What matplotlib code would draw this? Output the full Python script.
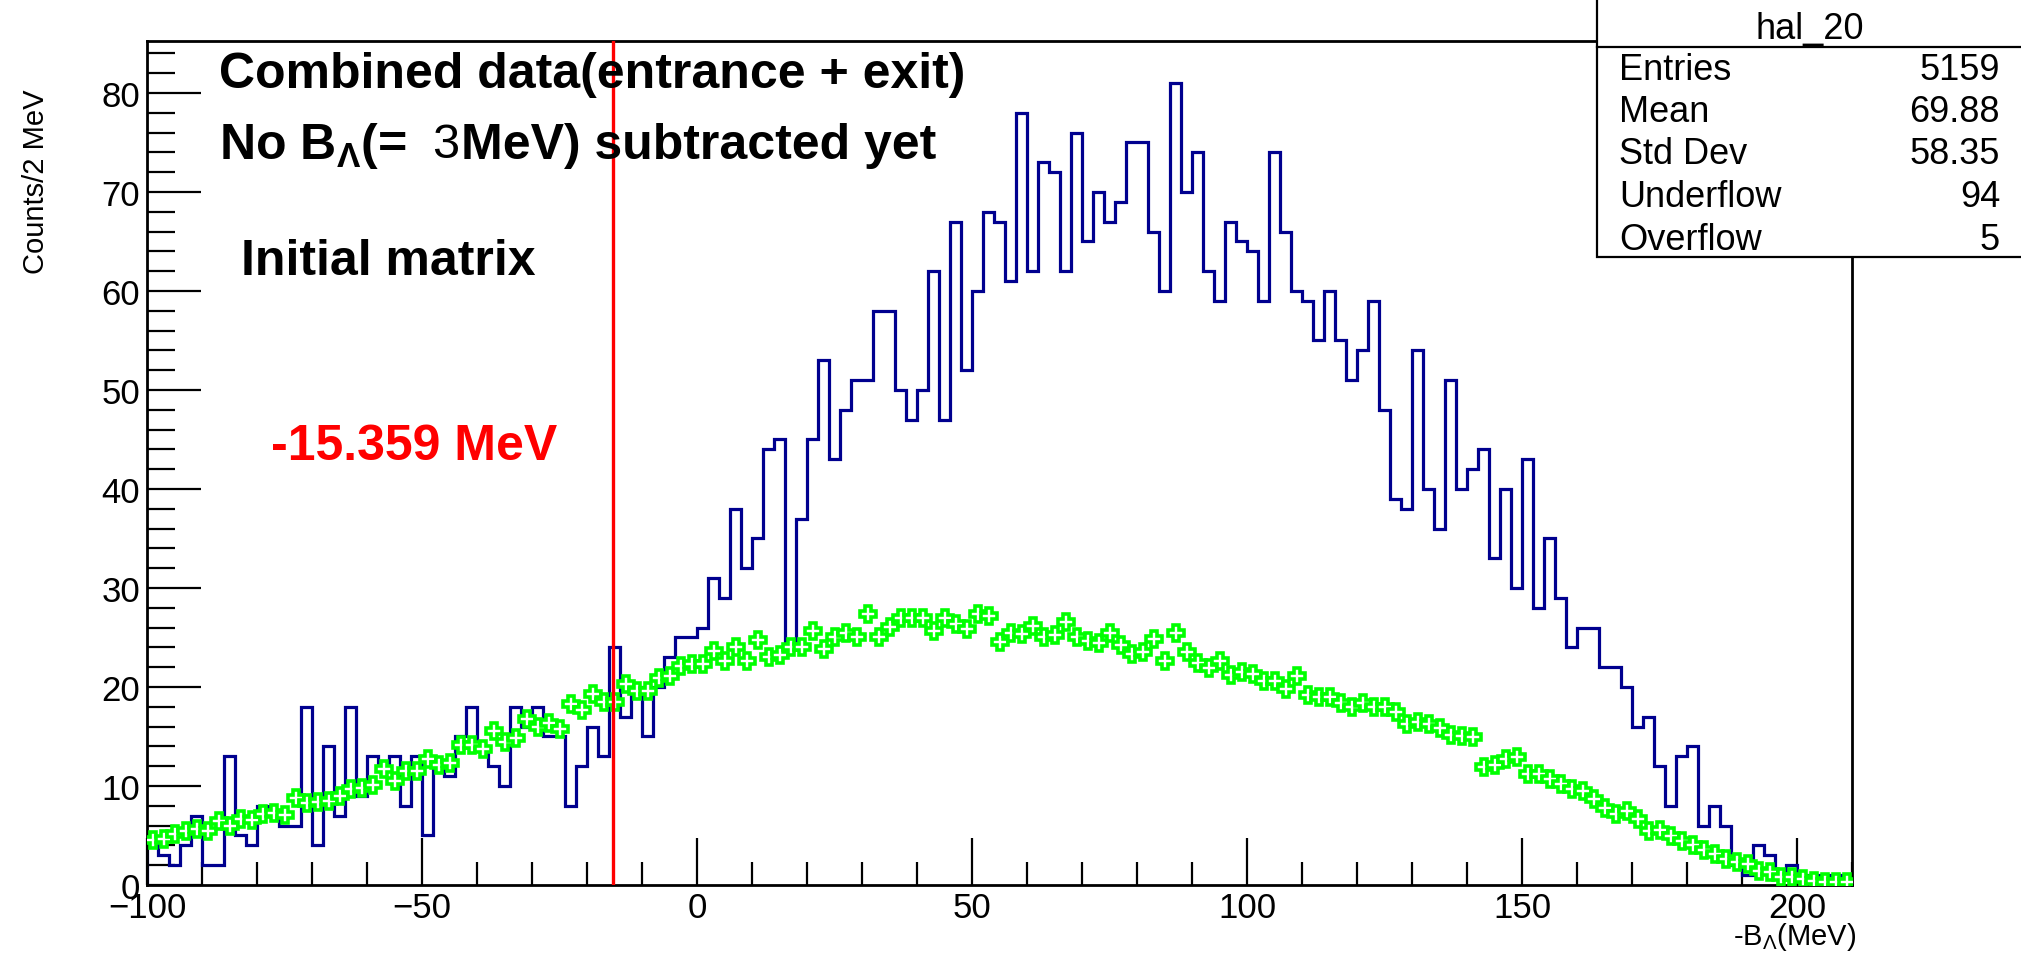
import numpy as np
import matplotlib
matplotlib.use("Agg")
import matplotlib.pyplot as plt
from matplotlib.ticker import MultipleLocator
from matplotlib.lines import Line2D
from matplotlib.patches import Rectangle

plt.rcParams['font.family'] = ['Liberation Sans', 'DejaVu Sans']
plt.rcParams['mathtext.fontset'] = 'custom'
plt.rcParams['mathtext.rm'] = 'Liberation Sans'
plt.rcParams['mathtext.it'] = 'Liberation Sans:italic'
plt.rcParams['mathtext.bf'] = 'Liberation Sans:bold'

# histogram hal_20, 2 MeV bins from -100 to 210
bin_lo = -100
bin_hi = 210
bin_w = 2
counts = [4, 3, 2, 4, 7, 2, 2, 13, 5, 4,
          8, 7, 6, 6, 18, 4, 14, 7, 18, 9,
          13, 12, 13, 8, 13, 5, 12, 11, 15, 18,
          14, 12, 10, 18, 16, 18, 15, 15, 8, 12,
          16, 13, 24, 17, 20, 15, 20, 23, 25, 25,
          26, 31, 29, 38, 32, 35, 44, 45, 24, 37,
          45, 53, 43, 48, 51, 51, 58, 58, 50, 47,
          50, 62, 47, 67, 52, 60, 68, 67, 61, 78,
          62, 73, 72, 62, 76, 65, 70, 67, 69, 75,
          75, 66, 60, 81, 70, 74, 62, 59, 67, 65,
          64, 59, 74, 66, 60, 59, 55, 60, 55, 51,
          54, 59, 48, 39, 38, 54, 40, 36, 51, 40,
          42, 44, 33, 40, 30, 43, 28, 35, 29, 24,
          26, 26, 22, 22, 20, 16, 17, 12, 8, 13,
          14, 6, 8, 6, 2, 1, 4, 3, 1, 2,
          1, 1, 1, 1, 0]
# green reference distribution (same binning)
ref = [4.5, 4.6, 5.2, 5.5, 5.7, 5.5, 6.5, 6.0, 6.7, 6.6,
       7.2, 7.3, 7.1, 8.8, 8.3, 8.4, 8.5, 9.0, 9.7, 9.8,
       10.1, 11.7, 10.5, 11.5, 11.5, 12.7, 12.1, 12.3, 14.1, 14.1,
       13.7, 15.6, 14.4, 14.8, 16.8, 16.0, 16.4, 15.8, 18.3, 17.7,
       19.3, 18.5, 18.5, 20.3, 19.6, 19.6, 20.9, 21.1, 22.1, 22.3,
       22.3, 23.6, 22.6, 24.0, 22.6, 24.7, 23.0, 23.2, 24.0, 24.0,
       25.7, 23.8, 25.1, 25.5, 25.1, 27.4, 25.1, 26.1, 27.0, 27.0,
       27.0, 25.7, 27.0, 26.4, 25.9, 27.4, 27.2, 24.5, 25.5, 25.4,
       26.2, 25.1, 25.3, 26.6, 25.1, 24.6, 24.4, 25.5, 24.2, 23.3,
       23.5, 24.8, 22.6, 25.5, 23.5, 22.4, 21.9, 22.6, 21.2, 21.5,
       21.3, 20.6, 20.6, 19.8, 21.1, 19.2, 19.0, 19.0, 18.4, 18.0,
       18.4, 18.0, 18.0, 17.5, 16.3, 16.5, 16.3, 15.9, 15.2, 15.1,
       14.9, 11.9, 12.1, 12.7, 12.9, 11.2, 11.2, 10.7, 10.2, 9.7,
       9.5, 8.7, 7.8, 7.2, 7.5, 6.7, 5.5, 5.6, 4.9, 4.4,
       4.0, 3.5, 3.1, 2.6, 2.3, 2.1, 1.4, 1.3, 0.8, 0.8,
       0.6, 0.4, 0.3, 0.3, 0.3]
cut_mev = -15.359
stat_names = ['Entries', 'Mean', 'Std Dev', 'Underflow', 'Overflow']
stat_values = ['5159', '69.88', '58.35', '94', '5']

W, H = 2021, 962
def fx(x):
    return x / W
def fy(y):
    return 1 - y / H

edges = np.arange(bin_lo, bin_hi + bin_w, bin_w)
centers = edges[:-1] + bin_w / 2

fig = plt.figure(figsize=(W / 100, H / 100), dpi=100)
ax = fig.add_axes([fx(147), fy(886), fx(1852) - fx(147), fy(42) - fy(886)])

ax.stairs(counts, edges, color='#00008f', lw=2.3, zorder=2)
ax.plot(centers, ref, ls='none', marker='P', ms=11, mfc='white', mec='#00ff00', mew=2.6, zorder=3)
ax.axvline(cut_mev, color='red', lw=2.4, zorder=4)

ax.set_xlim(bin_lo, bin_hi)
ax.set_ylim(0, 85.25)
ax.xaxis.set_major_locator(MultipleLocator(50))
ax.xaxis.set_minor_locator(MultipleLocator(10))
ax.yaxis.set_major_locator(MultipleLocator(10))
ax.yaxis.set_minor_locator(MultipleLocator(2))
ax.tick_params(axis='x', which='major', direction='in', length=34, width=1.6, labelsize=25, pad=4)
ax.tick_params(axis='x', which='minor', direction='in', length=16.5, width=1.6)
ax.tick_params(axis='y', which='major', direction='in', length=39, width=1.6, labelsize=25, pad=5)
ax.tick_params(axis='y', which='minor', direction='in', length=20, width=1.6)
for s in ax.spines.values():
    s.set_linewidth(2)

fig.text(fx(36), fy(90), 'Counts/2 MeV', rotation=90, ha='center', va='top', fontsize=21)
fig.text(fx(1856), fy(937), r'-B$_{\Lambda}$(MeV)', ha='right', va='center', fontsize=21)

fig.text(fx(219), fy(75), 'Combined data(entrance + exit)', fontsize=36, fontweight='bold', va='center')
fig.text(fx(219), fy(146), r'No $\mathbf{B_{\Lambda}}$(=', fontsize=36, fontweight='bold', va='center')
fig.text(fx(432), fy(146), '3', fontsize=35, va='center')
fig.text(fx(461), fy(146), 'MeV) subtracted yet', fontsize=36, fontweight='bold', va='center')
fig.text(fx(241), fy(262), 'Initial matrix', fontsize=36, fontweight='bold', va='center')
fig.text(fx(271), fy(447), '-15.359 MeV', fontsize=36, fontweight='bold', va='center', color='red')

# stats box (top edge sits above the picture)
fig.add_artist(Rectangle((fx(1597), fy(258)), fx(2030) - fx(1597), fy(-10) - fy(258),
                         transform=fig.transFigure, facecolor='white', edgecolor='black', lw=1.6, zorder=5))
fig.add_artist(Line2D([fx(1597), fx(2030)], [fy(48), fy(48)], transform=fig.transFigure, color='black', lw=1.6, zorder=6))
fig.text(fx(1810), fy(29), 'hal_20', ha='center', va='center', fontsize=26, zorder=6)
for i in range(len(stat_names)):
    yy = 70 + i * 42.5
    fig.text(fx(1619), fy(yy), stat_names[i], ha='left', va='center', fontsize=26, zorder=6)
    fig.text(fx(2000), fy(yy), stat_values[i], ha='right', va='center', fontsize=26, zorder=6)

fig.savefig('out.png', dpi=100)
